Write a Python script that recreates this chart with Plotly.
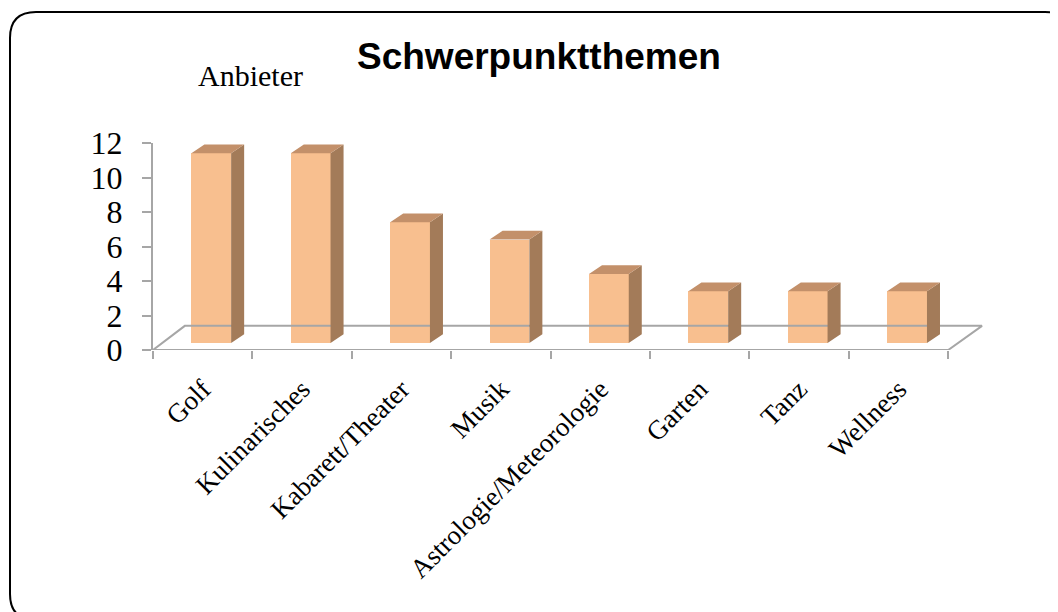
import plotly.graph_objects as go

categories = ["Golf", "Kulinarisches", "Kabarett/Theater", "Musik",
              "Astrologie/Meteorologie", "Garten", "Tanz", "Wellness"]
values = [11, 11, 7, 6, 4, 3, 3, 3]
y_ticks = [0, 2, 4, 6, 8, 10, 12]

W, H = 1058, 612
OFS = 8  # page body margin of the browser
L, R, T, B = 153 - OFS, 988 - OFS, 143 - OFS, 350 - OFS   # plot area pixels in figure
XMIN, XMAX = -0.5, 7.9
YMIN, YMAX = 0, 12

def px(x):  # page pixel -> paper x
    return (x - OFS - L) / (R - L)
def py(y):
    return (B - (y - OFS)) / (B - T)

FRONT = "#F8BF8F"
TOP = "#C3906A"
SIDE = "#A37B59"
GRID = "#A6A6A6"

base = 0.4
bw = 0.40
off = 0.086
ddx, ddy = 0.131, 0.52

xs = [i + off for i in range(len(values))]

fig = go.Figure()

# floor
fdx, fdy = 0.32, 1.4
fig.add_trace(go.Scatter(
    x=[XMIN, XMIN + fdx, 7.5 + fdx + 0.02, 7.5],
    y=[0, fdy, fdy, 0],
    mode="lines", line=dict(color=GRID, width=2), hoverinfo="skip", showlegend=False,
    cliponaxis=False))
fig.add_trace(go.Scatter(
    x=[XMIN, 7.5], y=[0, 0],
    mode="lines", line=dict(color=GRID, width=2), hoverinfo="skip", showlegend=False,
    cliponaxis=False))

# front faces
fig.add_trace(go.Bar(x=xs, y=values, base=[base] * len(values), width=bw,
                     marker=dict(color=FRONT, line=dict(width=0)), showlegend=False))

# side and top faces
sx, sy, tx, ty = [], [], [], []
for x, v in zip(xs, values):
    xl, xr = x - bw / 2, x + bw / 2
    top = base + v
    sx += [xr, xr + ddx, xr + ddx, xr, xr, None]
    sy += [base, base + ddy, top + ddy, top, base, None]
    tx += [xl, xl + ddx, xr + ddx, xr, xl, None]
    ty += [top, top + ddy, top + ddy, top, top, None]
fig.add_trace(go.Scatter(x=sx, y=sy, fill="toself", fillcolor=SIDE, mode="lines",
                         line=dict(width=0, color=SIDE), hoverinfo="skip", showlegend=False,
                         cliponaxis=False))
fig.add_trace(go.Scatter(x=tx, y=ty, fill="toself", fillcolor=TOP, mode="lines",
                         line=dict(width=0, color=TOP), hoverinfo="skip", showlegend=False,
                         cliponaxis=False))

# rounded border
r = 26
x0, y0, x1, y1 = 10, 12, 1071, 620
path = (f"M {px(x0+r)},{py(y0)} L {px(x1-r)},{py(y0)} "
        f"Q {px(x1)},{py(y0)} {px(x1)},{py(y0+r)} "
        f"L {px(x1)},{py(y1-r)} Q {px(x1)},{py(y1)} {px(x1-r)},{py(y1)} "
        f"L {px(x0+r)},{py(y1)} Q {px(x0)},{py(y1)} {px(x0)},{py(y1-r)} "
        f"L {px(x0)},{py(y0+r)} Q {px(x0)},{py(y0)} {px(x0+r)},{py(y0)} Z")
fig.add_shape(type="path", path=path, xref="paper", yref="paper",
              line=dict(color="black", width=2), layer="above")

fig.add_annotation(text="<b>Schwerpunktthemen</b>", xref="paper", yref="paper",
                   x=px(539), y=py(57), xanchor="center", yanchor="middle", showarrow=False,
                   font=dict(family="Liberation Sans, Arial", size=37, color="black"))
fig.add_annotation(text="Anbieter", xref="paper", yref="paper",
                   x=px(250), y=py(76), xanchor="center", yanchor="middle", showarrow=False,
                   font=dict(family="Liberation Serif, Times New Roman", size=30, color="black"))

fig.update_layout(
    width=W, height=H,
    margin=dict(l=L, r=W - R, t=T, b=H - B, pad=0),
    paper_bgcolor="white", plot_bgcolor="white",
    bargap=0,
    xaxis=dict(range=[XMIN, XMAX], showgrid=False, zeroline=False, showline=False,
               tickmode="array", tickvals=[i + 0.0 for i in range(len(categories))],
               ticktext=categories, tickangle=-45, ticks="", ticklabelstandoff=17,
               tickfont=dict(family="Liberation Serif, Times New Roman", size=27, color="black"),
               minor=dict(tickmode="array", tickvals=[i - 0.5 for i in range(len(categories) + 1)],
                          ticks="outside", ticklen=8, tickwidth=2, tickcolor=GRID, showgrid=False)),
    yaxis=dict(range=[YMIN, YMAX], showgrid=False, zeroline=False, showline=True,
               linecolor=GRID, linewidth=2, tickvals=y_ticks, ticks="outside",
               ticklen=9, tickwidth=2, tickcolor=GRID, ticklabelstandoff=13,
               tickfont=dict(family="Liberation Serif, Times New Roman", size=32, color="black")),
)

fig.write_html("out.html")
